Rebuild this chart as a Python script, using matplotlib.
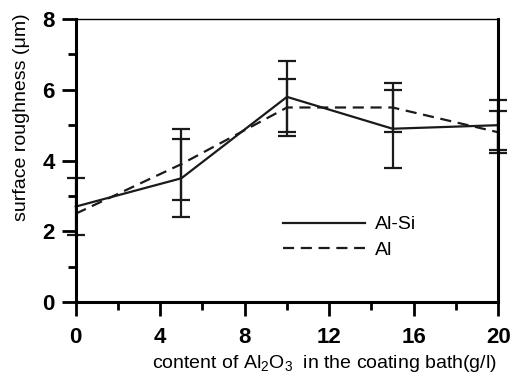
import numpy as np
import matplotlib.pyplot as plt
from matplotlib.ticker import MultipleLocator
from matplotlib.lines import Line2D

plt.rcParams['font.family'] = ['Liberation Sans', 'DejaVu Sans']
plt.rcParams['mathtext.fontset'] = 'custom'
plt.rcParams['mathtext.rm'] = 'Liberation Sans'
plt.rcParams['mathtext.it'] = 'Liberation Sans:italic'

# data
content = [0, 5, 10, 15, 20]
alsi = [2.7, 3.5, 5.8, 4.9, 5.0]
alsi_err = [0.8, 1.1, 1.0, 1.1, 0.7]
al = [2.5, 3.9, 5.5, 5.5, 4.8]
al_err = [0.0, 1.0, 0.8, 0.7, 0.6]

fig = plt.figure(figsize=(5.12, 3.73), dpi=100)
ax = fig.add_axes([0.148, 0.19, 0.825, 0.759])

col = '#1a1a1a'
dash = (0, (5, 3))
ax.plot(content, alsi, color=col, lw=1.6, clip_on=False)
ax.plot(content, al, color=col, lw=1.6, ls=dash, clip_on=False)

# error bars (Al has none at 0 g/l)
eb1 = ax.errorbar(content, alsi, yerr=alsi_err, fmt='none', ecolor=col,
                  elinewidth=1.6, capsize=6.5, capthick=1.6)
eb2 = ax.errorbar(content[1:], al[1:], yerr=al_err[1:], fmt='none', ecolor=col,
                  elinewidth=1.6, capsize=6.5, capthick=1.6)
for eb in (eb1, eb2):
    for artist in eb.get_children():
        artist.set_clip_on(False)

ax.set_xlim(0, 20)
ax.set_ylim(0, 8)
ax.xaxis.set_major_locator(MultipleLocator(4))
ax.xaxis.set_minor_locator(MultipleLocator(2))
ax.yaxis.set_major_locator(MultipleLocator(2))
ax.yaxis.set_minor_locator(MultipleLocator(1))
ax.tick_params(which='major', direction='out', length=10, width=2, labelsize=16)
ax.tick_params(which='minor', direction='out', length=5.5, width=2)
ax.tick_params(axis='x', which='major', pad=8)
ax.tick_params(axis='y', which='major', pad=5)
for lab in ax.get_xticklabels() + ax.get_yticklabels():
    lab.set_fontweight('bold')

for side in ('left', 'bottom', 'right'):
    ax.spines[side].set_linewidth(2.2)
ax.spines['top'].set_linewidth(1.0)

fig.text(324 / 512, 1 - 363 / 373, 'content of Al$_2$O$_3$  in the coating bath(g/l)',
         fontsize=14, ha='center', va='center')
fig.text(22 / 512, 1 - 117 / 373, 'surface roughness (\u03bcm)', fontsize=14,
         ha='center', va='center', rotation=90)

handles = [Line2D([], [], color=col, lw=1.6),
           Line2D([], [], color=col, lw=1.6, ls=dash)]
ax.legend(handles, ['Al-Si', 'Al'], frameon=False, fontsize=14, handlelength=4.2,
          handletextpad=0.5, loc='upper left', bbox_to_anchor=(0.45, 0.367),
          labelspacing=0.4)

fig.savefig('out.png', dpi=100)
